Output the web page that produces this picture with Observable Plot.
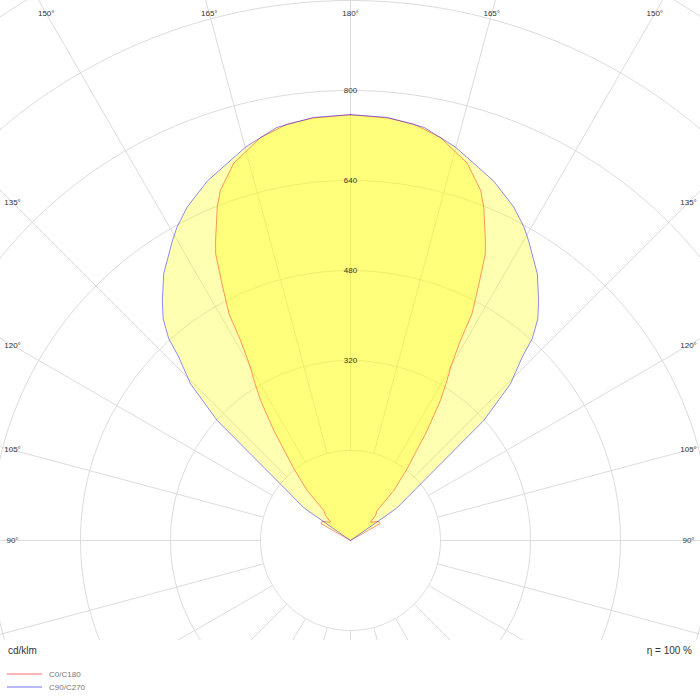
<!DOCTYPE html>
<html><head><meta charset="utf-8">
<script src="https://cdn.jsdelivr.net/npm/d3@7"></script>
<script src="https://cdn.jsdelivr.net/npm/@observablehq/plot@0.6"></script>
<style>
body{margin:0;background:#fff;font-family:"Liberation Sans",Arial,sans-serif;}
#wrap{position:relative;width:700px;height:700px;overflow:hidden;background:#fff}
#chart{width:700px;height:640px;overflow:hidden}
.unit{position:absolute;left:8px;top:645px;font-size:10px;color:#333}
.eta{position:absolute;right:8px;top:645px;font-size:10px;color:#333}
.leg{position:absolute;left:7px;font-size:8px;color:#777;display:flex;align-items:center;height:10px}
.sw{display:inline-block;width:35px;height:2px;margin-right:7px}
</style></head>
<body>
<div id="wrap">
<div id="chart"></div>
<div class="unit">cd/klm</div>
<div class="eta">η = 100 %</div>
<div class="leg" style="top:669px"><span class="sw" style="background:#ffb4b4"></span>C0/C180</div>
<div class="leg" style="top:682px"><span class="sw" style="background:#b8b8ff"></span>C90/C270</div>
</div>
<script>
// Series (gamma angle in degrees, intensity in cd/klm)
const c0Gamma = [180,175,171.4,167.4,162.8,159.6,158.2,155.8,154.8,153.4,151.8,151.2,150,148.9,147.3,145.1,141.7,139.1,138.3,135,132.5,123.9,119.7,115];
const c0Values = [757,754,749,734,702,664,638,585,563,510,457,406,356,332,296,238,162,118,71,63,48,61,60,0];
const c90Gamma = [180,175,169.9,165.1,158.3,153.9,151.05,149.3,145,141.9,139.8,138,136.9,134.4,132,125,120];
const c90Values = [757,755,746,724,688,660,637,620,579,542,516,483,447,398,319,100,0];
// Grid
const gridRadii = [160,320,480,640,800,960,1120];
const radialLabels = [320,480,640,800];
const spokeAngles = d3.range(0,360,15);
const labelGammas = [90,105,120,135,150,165,180];

const k = 0.5625; // px per cd/klm
const rad = d => d*Math.PI/180;

function polygon(gam, val){
  const left = gam.map((g,i)=>{const p=rad(180-g);return {x:-val[i]*Math.sin(p), y:val[i]*Math.cos(p)};});
  const right = gam.map((g,i)=>{const p=rad(180-g);return {x:val[i]*Math.sin(p), y:val[i]*Math.cos(p)};}).reverse();
  return left.concat(right);
}
const c0 = polygon(c0Gamma, c0Values);
const c90 = polygon(c90Gamma, c90Values);

const circles = gridRadii.flatMap(r => d3.range(0,361,1).map(a => ({r, x:r*Math.sin(rad(a)), y:r*Math.cos(rad(a))})));
const spokes = spokeAngles.map(a => ({x1:160*Math.sin(rad(a)), y1:160*Math.cos(rad(a)), x2:1400*Math.sin(rad(a)), y2:1400*Math.cos(rad(a))}));

const angLabels = [];
for (const g of labelGammas){
  const p = rad(180-g);
  const c = Math.cos(p), s = Math.sin(p);
  const rp = Math.min(c>1e-9 ? 527/c : Infinity, s>1e-9 ? 338/s : Infinity);
  const r = rp/k;
  angLabels.push({x:-r*s, y:r*c, t:g+"°"});
  if (g!==180) angLabels.push({x:r*s, y:r*c, t:g+"°"});
}

const chart = Plot.plot({
  width:700, height:640, margin:0,
  x:{domain:[-350/k,350/k], axis:null},
  y:{domain:[-100/k,540/k], axis:null},
  style:{fontFamily:"Liberation Sans, Arial, sans-serif", background:"#fff"},
  marks:[
    Plot.line(circles, {x:"x", y:"y", z:"r", stroke:"#dcdcdc", strokeWidth:1}),
    Plot.link(spokes, {x1:"x1", y1:"y1", x2:"x2", y2:"y2", stroke:"#dcdcdc", strokeWidth:1}),
    Plot.line(c90, {x:"x", y:"y", fill:"#ffff00", fillOpacity:0.3, stroke:"none"}),
    Plot.line(c0, {x:"x", y:"y", fill:"#ffff00", fillOpacity:0.3, stroke:"none"}),
    Plot.line(c0, {x:"x", y:"y", stroke:"#ff0000", strokeOpacity:0.42, strokeWidth:1}),
    Plot.line(c90, {x:"x", y:"y", stroke:"#0000ff", strokeOpacity:0.45, strokeWidth:1}),
    Plot.text(radialLabels, {x:0, y:d=>d, text:d=>String(d), fontSize:8, fill:"#333"}),
    Plot.text(angLabels, {x:"x", y:"y", text:"t", fontSize:8, fill:"#333"})
  ]
});
document.getElementById("chart").appendChild(chart);
</script>
</body></html>
